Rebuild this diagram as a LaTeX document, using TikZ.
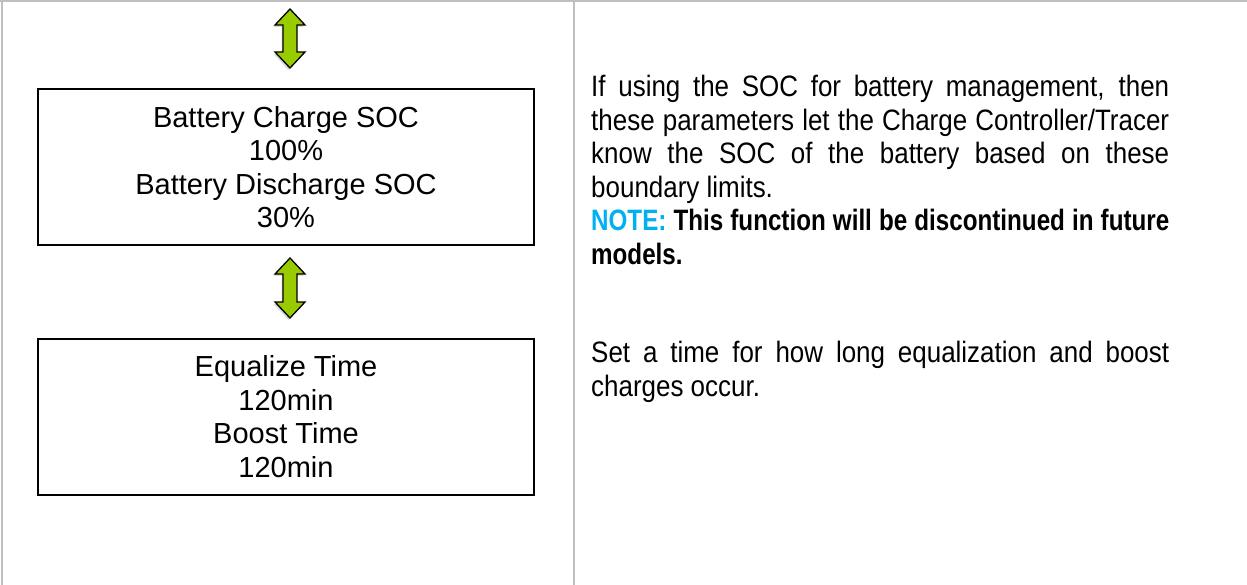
\documentclass[tikz,border=0pt]{standalone}
\usepackage{fontspec}
\setmainfont{Liberation Sans}
\newfontfamily\descfont[FakeStretch=0.88]{Liberation Sans}
\newfontfamily\notefont[FakeStretch=0.82]{Liberation Sans}
\usetikzlibrary{shadows}

\definecolor{framegray}{HTML}{BFBFBF}
\definecolor{arrowgreen}{HTML}{99CC00}
\definecolor{notecyan}{HTML}{00B0F0}

\newcommand{\boxfont}{\fontsize{29}{33.5}\selectfont}
\newcommand{\descsize}{\fontsize{29.5}{33.5}\selectfont}

\begin{document}
\begin{tikzpicture}[x=1pt, y=-1pt,
  frameline/.style={framegray, line width=2pt},
  setbox/.style={draw=black, line width=2pt, minimum width=496pt, minimum height=156pt,
    inner sep=0pt, align=center, font=\boxfont},
  desc/.style={anchor=north west, inner sep=0pt, text width=578pt, align=justify,
    font=\descfont\descsize},
  updown/.style={fill=arrowgreen, draw=black, line width=1.3pt,
    drop shadow={shadow xshift=-1.5pt, shadow yshift=-2pt, opacity=0.3}}]

\useasboundingbox (0,0) rectangle (1247,585);

% table lines
\draw[frameline] (0,1) -- (1247,1);
\draw[frameline] (2,0) -- (2,585);
\draw[frameline] (574,0) -- (574,585);

% setting screens
\node[setbox] (soc) at (286,167) {Battery Charge SOC\\100\%\\Battery Discharge SOC\\30\%};
\node[setbox] (eqtime) at (286,416.5) {Equalize Time\\120min\\Boost Time\\120min};

% up/down arrows
\filldraw[updown] (290,9) -- (305,25) -- (297,25) -- (297,52) -- (305,52) -- (290,68)
  -- (275,52) -- (283,52) -- (283,25) -- (275,25) -- cycle;
\filldraw[updown] (290,258) -- (305,274) -- (297,274) -- (297,302) -- (305,302) -- (290,318)
  -- (275,302) -- (283,302) -- (283,274) -- (275,274) -- cycle;

% explanations
\node[desc] (socnote) at (591,75) {If using the SOC for battery management, then\linebreak
  these parameters let the Charge Controller/Tracer\linebreak
  know the SOC of the battery based on these\linebreak
  boundary limits.\\
  {\notefont\bfseries\textcolor{notecyan}{NOTE:} This function will be discontinued in future\linebreak
  models.}};
\node[desc] (timenote) at (591,341) {Set a time for how long equalization and boost\linebreak
  charges occur.};

\end{tikzpicture}
\end{document}
